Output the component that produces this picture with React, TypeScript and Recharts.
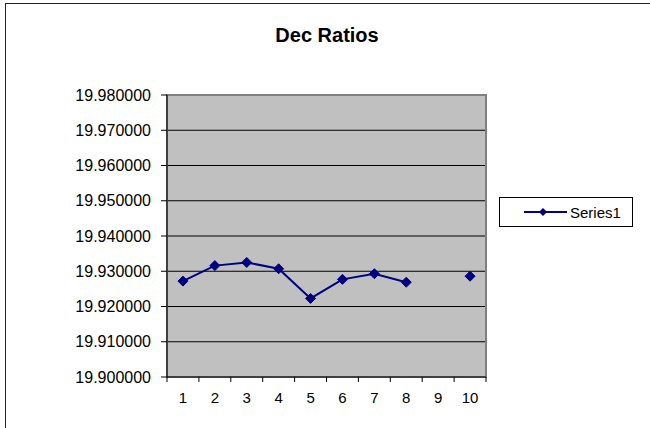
import React from 'react';
import { LineChart, Line, XAxis, YAxis, CartesianGrid, ReferenceArea } from 'recharts';

const title = 'Dec Ratios';
const seriesName = 'Series1';
const categories = [1, 2, 3, 4, 5, 6, 7, 8, 9, 10];
const series1Values: (number | null)[] = [
  19.9272, 19.9316, 19.9325, 19.9307, 19.9223, 19.9277, 19.9293, 19.9269, null, 19.9286,
];
const yTicks = [19.9, 19.91, 19.92, 19.93, 19.94, 19.95, 19.96, 19.97, 19.98];
const xBoundaryTicks = [0.5, 1.5, 2.5, 3.5, 4.5, 5.5, 6.5, 7.5, 8.5, 9.5, 10.5];

const data = categories.map((c, i) => ({ cat: c, value: series1Values[i] }));

const FONT = 'Arial, "Liberation Sans", sans-serif';
const NAVY = '#000080';
const TICK_AXIS = 'a_ticks';
const LABEL_AXIS = 'b_labels';

const Diamond = (props: any) => {
  const { cx, cy, value, index } = props;
  if (cx == null || cy == null || value == null) return <g key={`d-${index}`} />;
  const r = 5;
  return (
    <polygon
      key={`d-${index}`}
      points={`${cx},${cy - r} ${cx + r},${cy} ${cx},${cy + r} ${cx - r},${cy}`}
      fill={NAVY}
      stroke={NAVY}
      strokeWidth={1}
    />
  );
};

const LegendBox = () => (
  <div
    style={{
      position: 'absolute',
      left: 499,
      top: 197,
      width: 134,
      height: 30,
      border: '1px solid #000',
      background: '#fff',
      display: 'flex',
      alignItems: 'center',
      fontFamily: FONT,
      fontSize: 15,
      color: '#000',
      boxSizing: 'border-box',
    }}
  >
    <svg width={70} height={20} style={{ display: 'block' }}>
      <line x1={24} y1={10} x2={67} y2={10} stroke={NAVY} strokeWidth={2} />
      <polygon points="43,6 47,10 43,14 39,10" fill={NAVY} />
    </svg>
    <span style={{ marginLeft: 0 }}>{seriesName}</span>
  </div>
);

export default function App() {
  return (
    <div style={{ position: 'absolute', left: 0, top: 0, width: 650, height: 428, background: '#fff', overflow: 'hidden' }}>
      <div
        style={{
          position: 'absolute',
          left: 5,
          top: 3,
          width: 645,
          height: 425,
          borderLeft: '1px solid #222',
          borderTop: '1px solid #222',
          boxSizing: 'border-box',
        }}
      />
      <div
        style={{
          position: 'absolute',
          left: 167,
          width: 320,
          top: 24,
          textAlign: 'center',
          fontFamily: FONT,
          fontWeight: 'bold',
          fontSize: 20,
          lineHeight: '22px',
          color: '#000',
        }}
      >
        {title}
      </div>
      <div style={{ position: 'absolute', left: 0, top: 0 }}>
        <LineChart
          width={650}
          height={428}
          data={data}
          margin={{ top: 95, right: 164, bottom: 20, left: 0 }}
        >
          <CartesianGrid
            xAxisId={LABEL_AXIS}
            vertical={false}
            stroke="#000"
            strokeWidth={1}
            fill="#C0C0C0"
            fillOpacity={1}
          />
          <ReferenceArea
            xAxisId={LABEL_AXIS}
            x1={0.5}
            x2={10.5}
            y1={19.9}
            y2={19.98}
            fill="none"
            fillOpacity={0}
            stroke="#808080"
            strokeWidth={2}
            ifOverflow="visible"
          />
          <XAxis
            xAxisId={TICK_AXIS}
            type="number"
            dataKey="cat"
            domain={[0.5, 10.5]}
            ticks={xBoundaryTicks}
            tickFormatter={() => ''}
            height={6}
            tickSize={5}
            stroke="#000"
            axisLine={{ stroke: '#000' }}
            tickLine={{ stroke: '#000' }}
            interval={0}
          />
          <XAxis
            xAxisId={LABEL_AXIS}
            type="number"
            dataKey="cat"
            domain={[0.5, 10.5]}
            ticks={categories}
            interval={0}
            height={25}
            axisLine={false}
            tickLine={false}
            tickSize={0}
            tickMargin={9}
            tick={{ fill: '#000', fontFamily: FONT, fontSize: 15 }}
          />
          <YAxis
            type="number"
            domain={[19.9, 19.98]}
            ticks={yTicks}
            interval={0}
            width={167}
            tickFormatter={(v: number) => v.toFixed(6)}
            tickSize={6}
            tickMargin={10}
            axisLine={{ stroke: '#000' }}
            tickLine={{ stroke: '#000' }}
            tick={{ fill: '#000', fontFamily: FONT, fontSize: 16 }}
            allowDataOverflow
          />
          <Line
            xAxisId={LABEL_AXIS}
            type="linear"
            dataKey="value"
            name={seriesName}
            stroke={NAVY}
            strokeWidth={2}
            dot={Diamond}
            activeDot={false}
            connectNulls={false}
            isAnimationActive={false}
          />
        </LineChart>
      </div>
      <LegendBox />
    </div>
  );
}
